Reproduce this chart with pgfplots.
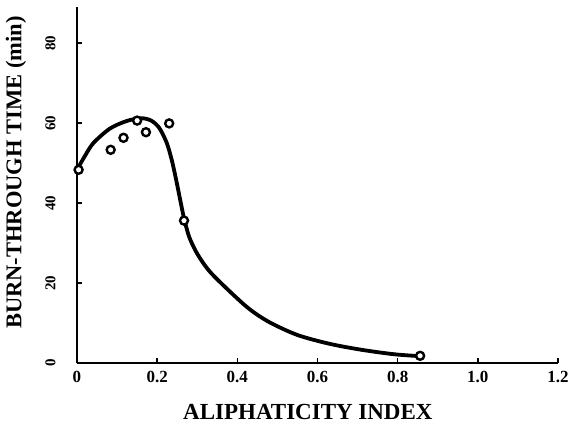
\documentclass[border=0pt]{standalone}
\usepackage{fontspec}
\setmainfont{Liberation Serif}
\usepackage{pgfplots}
\pgfplotsset{compat=1.18}
\begin{document}
\begin{tikzpicture}
\useasboundingbox (-77pt,-66pt) rectangle (502pt,363pt);
\begin{axis}[
  scale only axis, width=481pt, height=356pt,
  xmin=0, xmax=1.2, ymin=0, ymax=89,
  axis x line=bottom, axis y line=left,
  axis line style={line width=2.4pt, -},
  xtick={0,0.2,0.4,0.6,0.8,1.0,1.2},
  xticklabels={0,0.2,0.4,0.6,0.8,1.0,1.2},
  ytick={0,20,40,60,80},
  yticklabels={0,20,40,60,80},
  tick align=inside, major tick length=5pt,
  tick style={line width=1.6pt, black},
  /pgf/number format/assume math mode=true,
  xticklabel style={font=\bfseries\fontsize{17}{17}\selectfont, yshift=-5pt},
  yticklabel style={font=\bfseries\fontsize{15}{15}\selectfont, rotate=90, anchor=south},
  yticklabel shift=18pt,
  xlabel={ALIPHATICITY INDEX},
  ylabel={BURN-THROUGH TIME (min)},
  xlabel style={font=\bfseries\fontsize{23}{23}\selectfont, at={(axis description cs:0.48,-0.138)}, anchor=center},
  ylabel style={font=\bfseries\fontsize{22.5}{22.5}\selectfont, at={(axis description cs:-0.127,0.535)}, anchor=center},
  clip=false,
]
\addplot[line width=3.8pt, smooth, tension=0.5] coordinates {
  (0,48.3) (0.02,51.8) (0.041,55.0) (0.082,58.6) (0.124,60.5) (0.16,61.2)
  (0.185,60.6) (0.205,58.8) (0.224,55.0) (0.237,50.5) (0.248,45.5)
  (0.257,41.0) (0.267,36.2) (0.28,31.5) (0.30,27.3) (0.33,23.0)
  (0.38,18.0) (0.43,13.5) (0.48,10.2) (0.55,7.0) (0.63,4.8)
  (0.71,3.3) (0.79,2.2) (0.856,1.7)
};
\addplot[only marks, mark=*, mark size=4pt, mark options={fill=white, draw=black, line width=2.4pt}] coordinates {
  (0.004,48.3) (0.084,53.3) (0.116,56.3) (0.150,60.6) (0.172,57.7)
  (0.230,59.9) (0.267,35.6) (0.856,1.8)
};
\end{axis}
\end{tikzpicture}
\end{document}
